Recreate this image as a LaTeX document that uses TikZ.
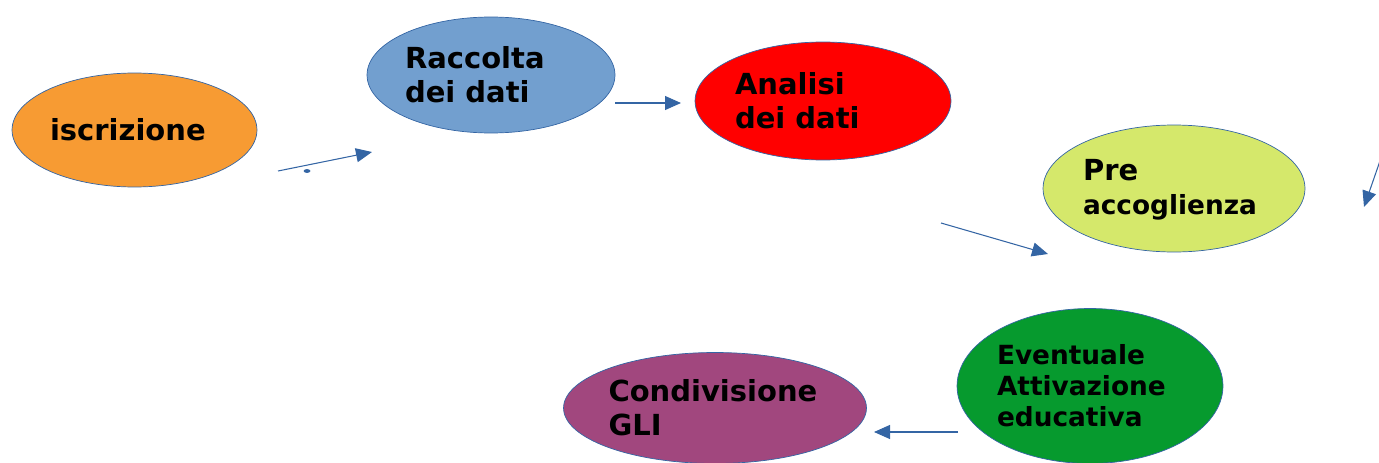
\documentclass[tikz,border=0pt]{standalone}
\usepackage{fontspec}
\setmainfont{DejaVu Sans}
\usepackage{tikz}
\usetikzlibrary{shapes,calc,positioning,arrows.meta}
\definecolor{edgeblue}{RGB}{52,101,164}
\definecolor{orangefill}{RGB}{247,155,51}
\definecolor{bluefill}{RGB}{114,159,207}
\definecolor{redfill}{RGB}{255,0,0}
\definecolor{limefill}{RGB}{213,232,107}
\definecolor{greenfill}{RGB}{6,154,46}
\definecolor{plumfill}{RGB}{161,71,126}
\tikzset{
  phase/.style args={#1,#2,#3}{
  ellipse,
  draw=edgeblue,
  line width=0.4pt,
  fill=#1,
  minimum width=#2 cm,
  minimum height=#3 cm,
  inner sep=0pt
  },
  phasetext/.style={anchor=west,align=left,inner sep=0pt,font=\bfseries\fontsize{16.5}{19.5}\selectfont},
  smalltext/.style={phasetext,font=\bfseries\fontsize{15}{17.6}\selectfont},
  flow/.style={-{Triangle[length=0.32cm,width=0.28cm]},draw=edgeblue,line width=0.6pt}
}
\begin{document}
\begin{tikzpicture}[x=0.02cm,y=-0.02cm]
  \useasboundingbox (0,0) rectangle (1379,463);

  \node [phase={orangefill,4.9,2.28}] (iscr) at (134.5,130) {};
  \node [phase={bluefill,4.96,2.32}] (racc) at (491,75) {};
  \node [phase={redfill,5.12,2.36}] (anal) at (823,101) {};
  \node [phase={limefill,5.24,2.54}] (pre) at (1174,188.5) {};
  \node [phase={greenfill,5.32,3.1}] (event) at (1090,386) {};
  \node [phase={plumfill,6.06,2.22}] (cond) at (715,408) {};

  \node [phasetext] (iscr-t) at ($(iscr.west)+(38,0)$) {iscrizione};
  \node [phasetext] (racc-t) at ($(racc.west)+(38,0)$) {Raccolta\\dei dati};
  \node [phasetext] (anal-t) at ($(anal.west)+(40,0)$) {Analisi\\dei dati};
  \node [phasetext,font=\bfseries\fontsize{16.5}{19.5}\selectfont] (pre-t) at ($(pre.west)+(40,1)$) {Pre\\{\fontsize{15}{17.6}\selectfont accoglienza}};
  \node [smalltext] (event-t) at ($(event.west)+(40,0)$) {Eventuale\\Attivazione\\educativa};
  \node [phasetext] (cond-t) at ($(cond.west)+(45,0)$) {Condivisione\\GLI};

  % loose arrow ends
  \coordinate (a1s) at (278,171);  \coordinate (a1e) at (372,152);
  \coordinate (a2s) at (615,103);  \coordinate (a2e) at (681,103);
  \coordinate (a3s) at (941,223);  \coordinate (a3e) at (1048,254);
  \coordinate (a4s) at (1381,158); \coordinate (a4e) at (1364,207);
  \coordinate (a5s) at (958,432);  \coordinate (a5e) at (874,432);

  \draw [flow] (a1s) -- (a1e);
  \draw [flow] (a2s) -- (a2e);
  \draw [flow] (a3s) -- (a3e);
  \draw [flow] (a4s) -- (a4e);
  \draw [flow] (a5s) -- (a5e);

  \filldraw [draw=edgeblue,fill=edgeblue,line width=0.4pt] (307,171) ellipse (0.06cm and 0.03cm);
\end{tikzpicture}
\end{document}
